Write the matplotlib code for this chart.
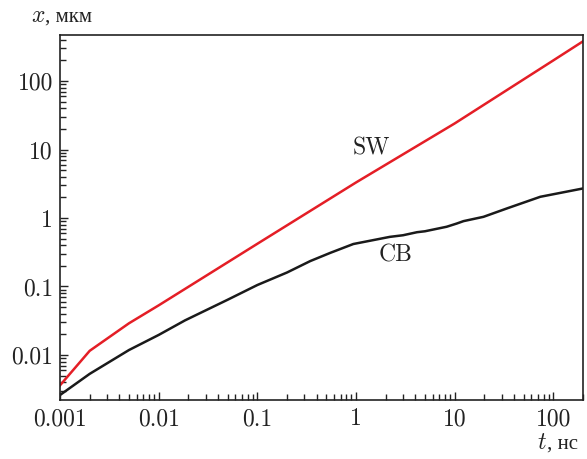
import matplotlib
matplotlib.use("Agg")
import matplotlib.pyplot as plt
from matplotlib.ticker import FixedLocator, LogLocator, NullFormatter

plt.rcParams['font.family'] = ['cmr10', 'DejaVu Serif']
plt.rcParams['mathtext.fontset'] = 'cm'
plt.rcParams['axes.formatter.use_mathtext'] = True

# SW curve (red)
t_sw = [0.001, 0.002, 0.005, 0.01, 0.1, 1, 10, 100, 200]
x_sw = [0.0036, 0.0115, 0.029, 0.053, 0.42, 3.3, 24, 200, 380]

# CB curve (black)
t_cb = [0.001, 0.002, 0.005, 0.01, 0.0185, 0.05, 0.1, 0.2, 0.344, 0.55, 0.94,
        2.2, 3.0, 4.15, 5.0, 8.3, 10.5, 12.3, 19.6, 33.9, 73.8, 200]
x_cb = [0.0026, 0.0053, 0.0118, 0.0196, 0.032, 0.064, 0.105, 0.16, 0.235, 0.31, 0.417,
        0.53, 0.56, 0.62, 0.64, 0.745, 0.83, 0.90, 1.04, 1.38, 2.04, 2.7]

xticks = [0.001, 0.01, 0.1, 1, 10, 100]
xtick_labels = ["0.001", "0.01", "0.1", "1", "10", "100"]
yticks = [0.01, 0.1, 1, 10, 100]
ytick_labels = ["0.01", "0.1", "1", "10", "100"]

fig = plt.figure(figsize=(5.87, 4.59), dpi=100)
ax = fig.add_axes([60 / 587, 59 / 459, 523 / 587, 365 / 459])

ax.plot(t_sw, x_sw, color='#e41e26', linewidth=1.8)
ax.plot(t_cb, x_cb, color='#1a1a1a', linewidth=1.8)

ax.set_xscale('log')
ax.set_yscale('log')
ax.set_xlim(0.001, 200)
ax.set_ylim(0.0022, 470)

ax.xaxis.set_major_locator(FixedLocator(xticks))
ax.set_xticklabels(xtick_labels)
ax.yaxis.set_major_locator(FixedLocator(yticks))
ax.set_yticklabels(ytick_labels)
ax.xaxis.set_minor_locator(LogLocator(base=10, subs=range(2, 10), numticks=20))
ax.yaxis.set_minor_locator(LogLocator(base=10, subs=range(2, 10), numticks=20))
ax.xaxis.set_minor_formatter(NullFormatter())
ax.yaxis.set_minor_formatter(NullFormatter())

ax.tick_params(which='both', direction='in', top=False, right=False,
               width=1.0, labelsize=17, colors='#222222')
ax.tick_params(which='major', length=6)
ax.tick_params(axis='x', which='major', pad=6)
ax.tick_params(axis='y', which='major', pad=5)
ax.tick_params(which='minor', length=4)
for s in ax.spines.values():
    s.set_linewidth(1.2)
    s.set_color('#222222')

ax.text(1.43, 10.4, "SW", fontsize=17, color='#222222', ha='center', va='center')
ax.text(2.5, 0.28, "CB", fontsize=17, color='#222222', ha='center', va='center')

# axis names
fig.text(31 / 587, 1 - 22 / 459, "$x$", fontsize=17, color='#222222')
fig.text(45 / 587, 1 - 22 / 459, ", мкм", fontsize=15, color='#222222',
         family=['Liberation Serif'])
fig.text(537 / 587, 1 - 449 / 459, "$t$", fontsize=17, color='#222222')
fig.text(547 / 587, 1 - 449 / 459, ", нс", fontsize=15, color='#222222',
         family=['Liberation Serif'])

fig.savefig("out.png", dpi=100)
